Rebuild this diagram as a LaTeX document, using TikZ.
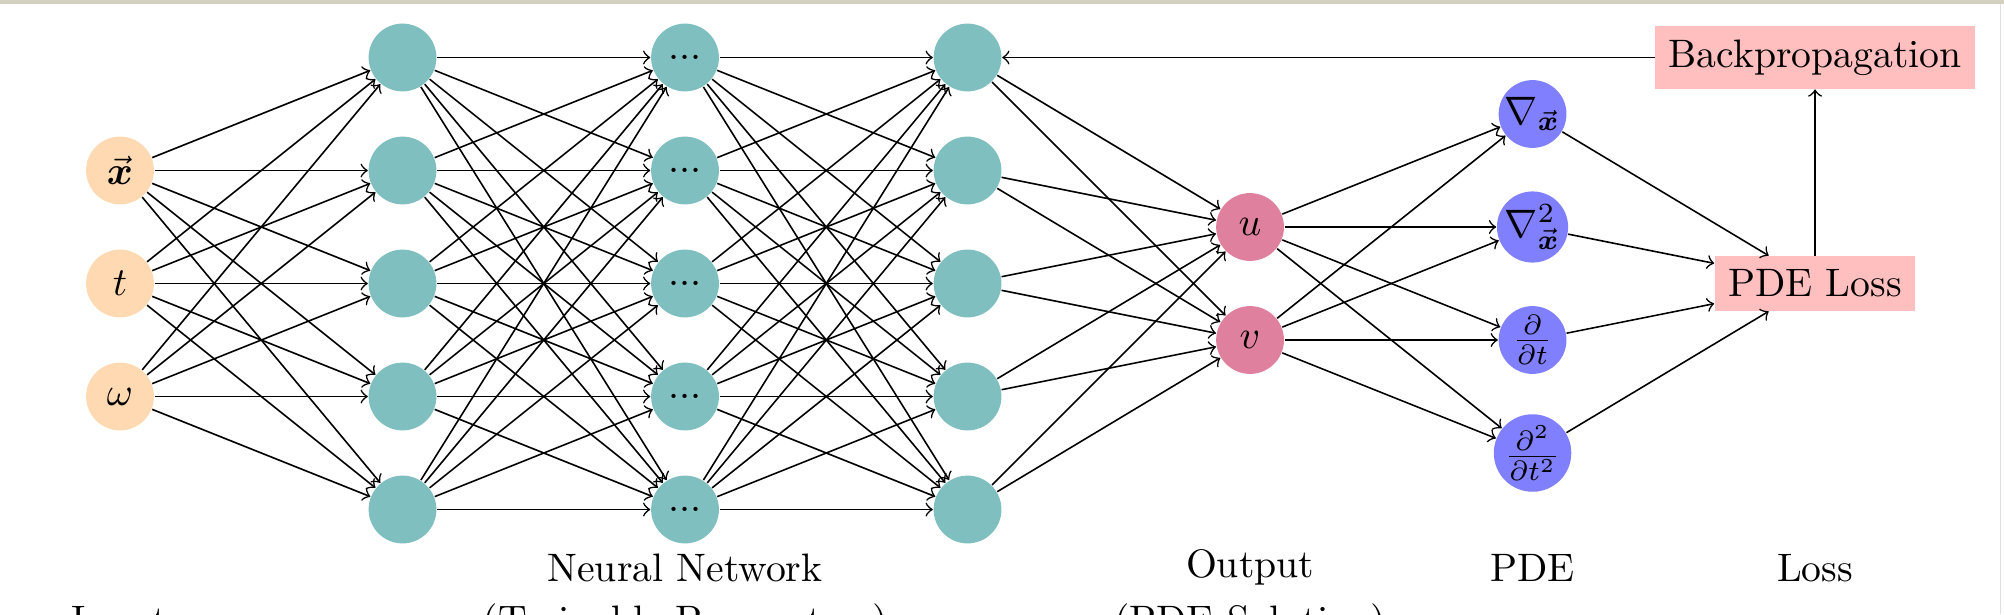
\documentclass[tikz,border=0pt]{standalone}
\usepackage{amsmath}
\usepackage{tikz}
\usetikzlibrary{positioning}

\begin{document}
\begin{tikzpicture}[
  neuron/.style={circle,minimum size=0.6cm,inner sep=0pt},
  inputnode/.style={neuron,fill=orange!30},
  hiddennode/.style={neuron,fill=teal!50},
  outputnode/.style={neuron,fill=purple!50},
  pdenode/.style={neuron,fill=blue!50},
  lossbox/.style={rectangle,fill=red!25},
  layerlabel/.style={anchor=base},
  link/.style={->}
]
\useasboundingbox (-1.062,-4.925) rectangle (16.672,0.509);
\fill[fill={rgb,255:red,214;green,208;blue,192}] (-1.062,0.474) rectangle (16.672,0.509);
\draw[gray!25,very thin] (16.636,0.474) -- (16.636,-4.925);

% input layer
\node[inputnode] (in1) at (0,-1) {$\vec{\boldsymbol{x}}$};
\node[inputnode] (in2) at (0,-2) {$t$};
\node[inputnode] (in3) at (0,-3) {$\omega$};

% hidden layers
\node[hiddennode] (ha1) at (2.5,0) {};
\node[hiddennode] (ha2) at (2.5,-1) {};
\node[hiddennode] (ha3) at (2.5,-2) {};
\node[hiddennode] (ha4) at (2.5,-3) {};
\node[hiddennode] (ha5) at (2.5,-4) {};

\node[hiddennode] (hb1) at (5,0) {...};
\node[hiddennode] (hb2) at (5,-1) {...};
\node[hiddennode] (hb3) at (5,-2) {...};
\node[hiddennode] (hb4) at (5,-3) {...};
\node[hiddennode] (hb5) at (5,-4) {...};

\node[hiddennode] (hc1) at (7.5,0) {};
\node[hiddennode] (hc2) at (7.5,-1) {};
\node[hiddennode] (hc3) at (7.5,-2) {};
\node[hiddennode] (hc4) at (7.5,-3) {};
\node[hiddennode] (hc5) at (7.5,-4) {};

% output layer
\node[outputnode] (u) at (10,-1.5) {$u$};
\node[outputnode] (v) at (10,-2.5) {$v$};

% PDE terms
\node[pdenode] (p1) at (12.5,-0.5) {$\nabla_{\vec{\boldsymbol{x}}}$};
\node[pdenode] (p2) at (12.5,-1.5) {$\nabla^2_{\vec{\boldsymbol{x}}}$};
\node[pdenode] (p3) at (12.5,-2.5) {$\frac{\partial}{\partial t}$};
\node[pdenode] (p4) at (12.5,-3.5) {$\frac{\partial^2}{\partial t^2}$};

% loss
\node[lossbox] (loss) at (15,-2) {PDE Loss};
\node[lossbox] (back) at (15,0) {Backpropagation};

% connections
\draw[link] (in1) edge (ha1) edge (ha2) edge (ha3) edge (ha4) edge (ha5);
\draw[link] (in2) edge (ha1) edge (ha2) edge (ha3) edge (ha4) edge (ha5);
\draw[link] (in3) edge (ha1) edge (ha2) edge (ha3) edge (ha4) edge (ha5);

\draw[link] (ha1) edge (hb1) edge (hb2) edge (hb3) edge (hb4) edge (hb5);
\draw[link] (ha2) edge (hb1) edge (hb2) edge (hb3) edge (hb4) edge (hb5);
\draw[link] (ha3) edge (hb1) edge (hb2) edge (hb3) edge (hb4) edge (hb5);
\draw[link] (ha4) edge (hb1) edge (hb2) edge (hb3) edge (hb4) edge (hb5);
\draw[link] (ha5) edge (hb1) edge (hb2) edge (hb3) edge (hb4) edge (hb5);

\draw[link] (hb1) edge (hc1) edge (hc2) edge (hc3) edge (hc4) edge (hc5);
\draw[link] (hb2) edge (hc1) edge (hc2) edge (hc3) edge (hc4) edge (hc5);
\draw[link] (hb3) edge (hc1) edge (hc2) edge (hc3) edge (hc4) edge (hc5);
\draw[link] (hb4) edge (hc1) edge (hc2) edge (hc3) edge (hc4) edge (hc5);
\draw[link] (hb5) edge (hc1) edge (hc2) edge (hc3) edge (hc4) edge (hc5);

\draw[link] (hc1) edge (u) edge (v);
\draw[link] (hc2) edge (u) edge (v);
\draw[link] (hc3) edge (u) edge (v);
\draw[link] (hc4) edge (u) edge (v);
\draw[link] (hc5) edge (u) edge (v);

\draw[link] (u) edge (p1) edge (p2) edge (p3) edge (p4);
\draw[link] (v) edge (p1) edge (p2) edge (p3) edge (p4);

\draw[link] (p1) edge (loss);
\draw[link] (p2) edge (loss);
\draw[link] (p3) edge (loss);
\draw[link] (p4) edge (loss);

\draw[link] (loss) -- (back);
\draw[link] (back) -- (hc1);

% layer labels
\node[layerlabel] (lin) at (0,-5.10) {Input};
\node[layerlabel] (lnn) at (5,-4.639) {Neural Network};
\node[layerlabel] (lnn2) at (5,-5.10) {(Trainable Parameters)};
\node[layerlabel] (lout) at (10,-4.605) {Output};
\node[layerlabel] (lout2) at (10,-5.10) {(PDE Solution)};
\node[layerlabel] (lpde) at (12.5,-4.639) {PDE};
\node[layerlabel] (lloss) at (15,-4.639) {Loss};

\end{tikzpicture}
\end{document}
